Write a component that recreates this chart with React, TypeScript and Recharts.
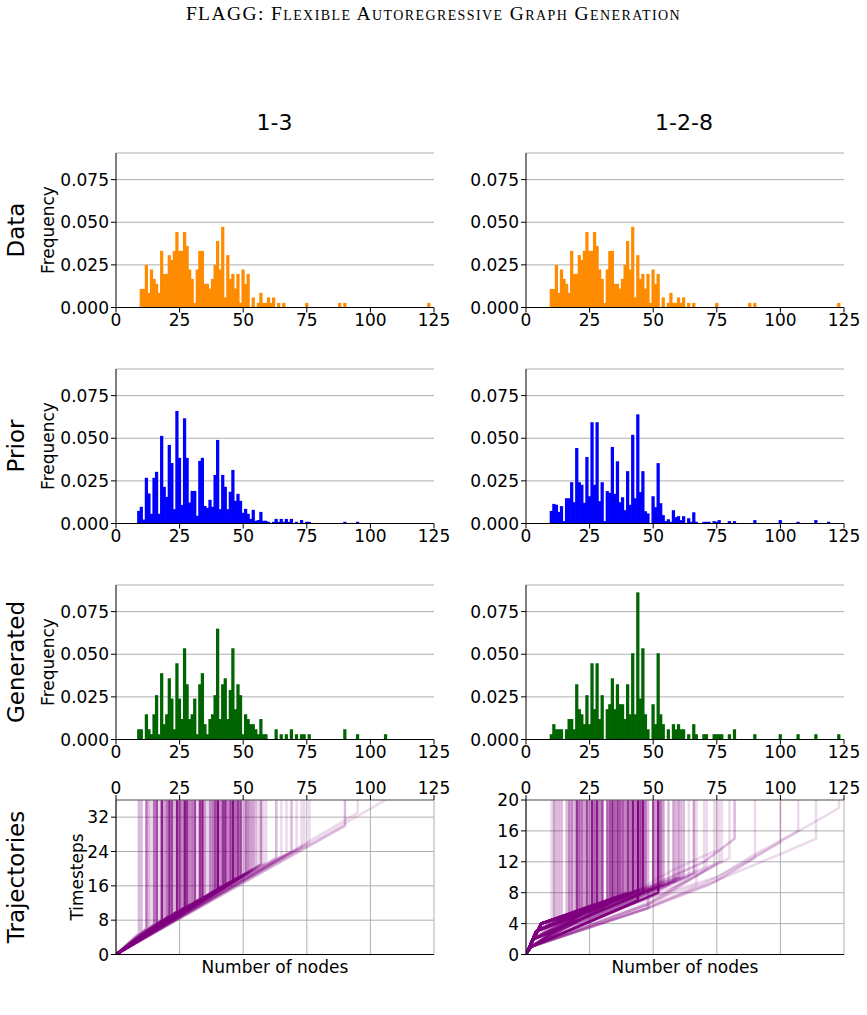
import React from 'react';
import { ComposedChart, Bar, Line, XAxis, YAxis, CartesianGrid } from 'recharts';

// axis ticks
const X_TICKS = [0, 25, 50, 75, 100, 125];
const FREQ_TICKS = [0, 0.025, 0.05, 0.075];
const FREQ_MAX = 0.0906;
const STEPS_13_TICKS = [0, 8, 16, 24, 32];
const STEPS_128_TICKS = [0, 4, 8, 12, 16, 20];

// training data histogram (same in both columns)
const DATA_N = [10, 11, 12, 13, 14, 15, 16, 17, 18, 19, 20, 21, 22, 23, 24, 25, 26, 27, 28, 29, 30, 31, 32, 33, 34, 35, 36, 37, 38, 39, 40, 41, 42, 43, 44, 45, 46, 47, 48, 49, 50, 51, 52, 54, 56, 57, 58, 59, 60, 61, 62, 64, 66, 75, 88, 90, 123];
const DATA_F = [0.0109, 0.0109, 0.025, 0.0086, 0.0223, 0.0168, 0.0139, 0.0086, 0.0332, 0.0197, 0.0197, 0.0307, 0.0279, 0.0332, 0.0443, 0.0332, 0.0332, 0.0443, 0.0361, 0.0223, 0.0168, 0.0027, 0.0223, 0.0332, 0.0332, 0.0139, 0.0139, 0.0111, 0.0168, 0.025, 0.039, 0.0223, 0.0473, 0.0059, 0.0307, 0.0168, 0.0197, 0.0111, 0.0197, 0.0027, 0.0223, 0.0139, 0.0197, 0.0059, 0.0027, 0.0086, 0.0027, 0.0027, 0.0059, 0.0027, 0.0059, 0.0027, 0.0027, 0.0027, 0.0027, 0.0027, 0.0027];

// prior, 1-3
const PRIOR13_N = [9, 10, 11, 12, 13, 14, 15, 16, 17, 18, 19, 20, 21, 22, 23, 24, 25, 26, 27, 28, 29, 30, 31, 32, 33, 34, 35, 36, 37, 38, 39, 40, 41, 42, 43, 44, 45, 46, 47, 48, 49, 50, 51, 52, 53, 54, 55, 56, 57, 58, 59, 60, 62, 63, 64, 65, 66, 67, 68, 69, 71, 73, 75, 76, 90, 95];
const PRIOR13_F = [0.0074, 0.0098, 0.0023, 0.0268, 0.0176, 0.0057, 0.0268, 0.0303, 0.0057, 0.0514, 0.0215, 0.0156, 0.0461, 0.0355, 0.0084, 0.066, 0.0385, 0.0109, 0.0617, 0.0385, 0.0123, 0.0191, 0.0191, 0.0045, 0.0367, 0.0385, 0.0103, 0.0092, 0.0139, 0.0098, 0.0285, 0.049, 0.0084, 0.0285, 0.0215, 0.0084, 0.0186, 0.0314, 0.0133, 0.0174, 0.0133, 0.0063, 0.0086, 0.0057, 0.0027, 0.008, 0.0016, 0.002, 0.0068, 0.0016, 0.0016, 0.001, 0.001, 0.0027, 0.001, 0.0027, 0.001, 0.0027, 0.001, 0.0027, 0.001, 0.002, 0.001, 0.001, 0.001, 0.001];

// prior, 1-2-8
const PRIOR128_N = [10, 11, 12, 13, 14, 15, 16, 17, 18, 19, 20, 21, 22, 23, 24, 25, 26, 27, 28, 29, 30, 31, 32, 33, 34, 35, 36, 37, 38, 39, 40, 41, 42, 43, 44, 45, 46, 47, 48, 50, 51, 52, 53, 54, 55, 56, 57, 58, 59, 60, 61, 62, 64, 65, 66, 67, 70, 71, 72, 74, 75, 76, 80, 82, 90, 100, 107, 114, 119];
const PRIOR128_F = [0.0074, 0.0115, 0.011, 0.0068, 0.0102, 0.0014, 0.0148, 0.0148, 0.0242, 0.0125, 0.0443, 0.0242, 0.0227, 0.0121, 0.039, 0.016, 0.0594, 0.0227, 0.0594, 0.0131, 0.0242, 0.0014, 0.019, 0.018, 0.0449, 0.0174, 0.0365, 0.0125, 0.0154, 0.0078, 0.0307, 0.011, 0.052, 0.0148, 0.064, 0.0184, 0.0307, 0.0072, 0.0059, 0.016, 0.0096, 0.0354, 0.0119, 0.0049, 0.0014, 0.0025, 0.001, 0.0078, 0.0037, 0.0043, 0.002, 0.0043, 0.0031, 0.001, 0.0066, 0.001, 0.001, 0.001, 0.001, 0.0014, 0.001, 0.002, 0.0014, 0.0014, 0.002, 0.002, 0.001, 0.002, 0.001];

// generated, 1-3
const GEN13_N = [9, 10, 12, 13, 14, 15, 16, 17, 18, 19, 20, 21, 22, 23, 24, 25, 26, 27, 28, 29, 30, 31, 32, 33, 34, 35, 36, 37, 38, 39, 40, 41, 42, 43, 44, 45, 46, 47, 48, 49, 50, 51, 52, 53, 54, 55, 56, 57, 58, 59, 63, 65, 67, 69, 71, 73, 74, 76, 90, 95, 106];
const GEN13_F = [0.006, 0.006, 0.0148, 0.006, 0.0031, 0.0148, 0.026, 0.0031, 0.0389, 0.009, 0.0148, 0.0359, 0.024, 0.006, 0.0447, 0.024, 0.012, 0.0535, 0.0324, 0.012, 0.0148, 0.024, 0.0031, 0.0324, 0.0389, 0.009, 0.0031, 0.012, 0.0148, 0.026, 0.065, 0.012, 0.0324, 0.0359, 0.012, 0.029, 0.0535, 0.0178, 0.0324, 0.026, 0.0031, 0.0148, 0.012, 0.009, 0.009, 0.006, 0.0031, 0.012, 0.0031, 0.0031, 0.006, 0.0031, 0.0031, 0.006, 0.0031, 0.0031, 0.0031, 0.0031, 0.006, 0.0031, 0.0031];

// generated, 1-2-8
const GEN128_N = [10, 11, 12, 13, 14, 16, 17, 18, 19, 20, 21, 22, 23, 24, 25, 26, 27, 28, 29, 30, 32, 33, 34, 35, 36, 37, 38, 39, 40, 41, 42, 43, 44, 45, 46, 47, 48, 50, 51, 52, 53, 54, 56, 58, 59, 60, 61, 62, 64, 66, 67, 70, 71, 74, 75, 76, 77, 80, 82, 90, 100, 107, 114, 123];
const GEN128_F = [0.0031, 0.009, 0.006, 0.006, 0.006, 0.006, 0.012, 0.012, 0.006, 0.0324, 0.0178, 0.0148, 0.009, 0.026, 0.009, 0.0447, 0.0178, 0.0447, 0.012, 0.026, 0.0178, 0.0207, 0.0359, 0.0178, 0.0324, 0.0207, 0.0207, 0.012, 0.0324, 0.0148, 0.0506, 0.0148, 0.0863, 0.024, 0.0535, 0.0148, 0.006, 0.0207, 0.009, 0.0506, 0.0148, 0.009, 0.006, 0.009, 0.006, 0.009, 0.006, 0.006, 0.0031, 0.009, 0.0031, 0.0031, 0.0031, 0.0031, 0.0031, 0.0031, 0.0031, 0.0031, 0.006, 0.0031, 0.0031, 0.0031, 0.0031, 0.0031];

// trajectories, 1-3: final timestep of each generated size (GEN13_N order)
const TRAJ13_T = [5, 5, 6, 6, 6.5, 7, 7, 7.5, 8, 8, 8.5, 9, 9, 9.5, 10, 10, 10.5, 11, 11, 11.5, 12, 12, 12.5, 13, 13, 13.5, 14, 14, 14.5, 15, 15, 15.5, 16, 16, 16.5, 17, 17, 17.5, 18, 18, 18.5, 19, 19, 19.5, 20, 20, 20.5, 21, 21, 21.5, 22.5, 23, 23.5, 24, 24.5, 25, 25.5, 26, 30, 33, 36];
const STEPS_13_MAX = 36;

// trajectories, 1-2-8: sizes up to 62 (GEN128_N order) go origin -> kink -> end
const KINKS = [[6, 4], [4, 3], [3, 2], [2, 1]];
const TRAJ128_T = [4.5, 4.5, 4.5, 4.5, 5, 5, 5, 5, 5.5, 5.5, 5.5, 5.5, 6, 6, 6, 6, 6.5, 6.5, 6.5, 6.5, 7, 7, 7, 7, 7.5, 7.5, 7.5, 7.5, 8, 8, 8, 8, 7, 8.5, 8, 8.5, 6, 8.5, 8.5, 8, 9, 9, 9, 9.5, 9.5, 10, 10, 10];
const TRAJ128_K = [0, 1, 0, 2, 0, 1, 0, 2, 0, 1, 0, 3, 1, 0, 2, 1, 0, 3, 1, 0, 2, 1, 0, 3, 1, 0, 2, 1, 0, 3, 1, 0, 3, 1, 2, 0, 3, 2, 0, 3, 1, 0, 2, 1, 0, 0, 3, 2];
// longer 1-2-8 trajectories, read point by point
const TRAJ128_LONG: number[][][] = [
  [[0, 0], [2, 1], [48, 6.5], [64, 10]],
  [[0, 0], [3, 2], [50, 8], [66, 10.5]],
  [[0, 0], [2, 1], [50, 7], [67, 9]],
  [[0, 0], [4, 3], [55, 9], [70, 11]],
  [[0, 0], [2, 1], [52, 7], [71, 11]],
  [[0, 0], [3, 2], [55, 8], [74, 11.5]],
  [[0, 0], [6, 4], [45, 8.5], [58, 11], [75, 13.5]],
  [[0, 0], [2, 1], [48, 6.5], [76, 12]],
  [[0, 0], [4, 3], [60, 10], [77, 12]],
  [[0, 0], [3, 2], [60, 9], [80, 12.5]],
  [[0, 0], [6, 4], [50, 9], [70, 12], [82, 15]],
  [[0, 0], [2, 1], [48, 6], [75, 9.5], [90, 12.5]],
  [[0, 0], [3, 2], [50, 7.5], [75, 10], [100, 14.5]],
  [[0, 0], [2, 1], [48, 6], [75, 10], [90, 13], [107, 16]],
  [[0, 0], [2, 1], [50, 6.5], [78, 10], [100, 13], [114, 15]],
  [[0, 0], [2, 1], [48, 6], [72, 9], [102, 15], [118, 18], [123, 19]],
];
const STEPS_128_MAX = 20;

const FONT = 'DejaVu Sans';
const PW = 318;
const PH = 154.5;
const YW = 75;
const RM = 16;
const BW = PW / 125;
const COL_X = [116, 525.5];
const ROW_Y = [152.5, 368.5, 584.5, 800];
const TRAJ_COLOR = '#800080';
const tickStyle = { fontSize: 17, fill: '#000', fontFamily: FONT };

function histRows(nodes: number[], freq: number[]) {
  const rows: { n: number; v: number }[] = [];
  for (let n = 0; n <= 125; n++) {
    const i = nodes.indexOf(n);
    rows.push({ n, v: i >= 0 ? freq[i] : 0 });
  }
  return rows;
}

// darker where several sampled graphs share the same size
function lineOpacity(f: number) {
  const count = Math.max(1, Math.round(f / 0.0031));
  return 1 - Math.pow(0.85, count);
}

function withTop(pts: number[][], yMax: number) {
  const last = pts[pts.length - 1];
  const all = last[1] < yMax ? [...pts, [last[0], yMax]] : pts;
  return all.map(([x, y]) => ({ x, y }));
}

const traj13 = GEN13_N.map((n, i) => ({
  pts: withTop([[0, 0], [n, TRAJ13_T[i]]], STEPS_13_MAX),
  op: lineOpacity(GEN13_F[i]),
}));

const traj128 = GEN128_N.map((n, i) => {
  const j = i - TRAJ128_T.length;
  const path = j < 0 ? [[0, 0], KINKS[TRAJ128_K[i]], [n, TRAJ128_T[i]]] : TRAJ128_LONG[j];
  return { pts: withTop(path, STEPS_128_MAX), op: lineOpacity(GEN128_F[i]) };
});

type Traj = { pts: { x: number; y: number }[]; op: number };

// full-width bins; a hair of overlap hides anti-aliasing seams
const HistBar = (props: any) => {
  const { x, y, width, height, fill } = props;
  if (!height || height <= 0) return <g />;
  const cx = x + width / 2;
  return <rect x={cx - BW / 2 - 0.35} y={y} width={BW + 0.7} height={height} fill={fill} />;
};

function Hist({ col, row, nodes, freq, color }: { col: number; row: number; nodes: number[]; freq: number[]; color: string }) {
  const data = histRows(nodes, freq);
  return (
    <div style={{ position: 'absolute', left: COL_X[col] - YW, top: ROW_Y[row] - 10 }}>
      <ComposedChart
        width={YW + PW + RM}
        height={10 + PH + 30}
        data={data}
        margin={{ top: 10, right: RM, bottom: 0, left: 0 }}
        barCategoryGap={0}
        barGap={0}
        style={{ overflow: 'visible' }}
      >
        <CartesianGrid vertical={false} stroke="#b0b0b0" />
        <XAxis dataKey="n" type="number" domain={[0, 125]} ticks={X_TICKS} interval={0} allowDataOverflow
          height={30} tickSize={5} tickMargin={1} stroke="#000" tick={tickStyle} />
        <XAxis xAxisId="t" orientation="top" type="number" domain={[0, 125]} height={0} tick={false} tickLine={false} stroke="#6e6e6e" />
        <YAxis type="number" domain={[0, FREQ_MAX]} ticks={FREQ_TICKS} interval={0} allowDataOverflow
          tickFormatter={(v: number) => v.toFixed(3)} width={YW} tickSize={5} tickMargin={2} stroke="#000" tick={tickStyle} />
        <YAxis yAxisId="r" orientation="right" type="number" domain={[0, 1]} width={0} tick={false} tickLine={false} stroke="#6e6e6e" />
        <Bar dataKey="v" fill={color} barSize={BW} shape={HistBar} isAnimationActive={false} />
      </ComposedChart>
    </div>
  );
}

function TrajPanel({ col, lines, yMax, yTicks }: { col: number; lines: Traj[]; yMax: number; yTicks: number[] }) {
  return (
    <div style={{ position: 'absolute', left: COL_X[col] - YW, top: ROW_Y[3] - 30 }}>
      <ComposedChart
        width={YW + PW + RM}
        height={30 + PH + 28}
        margin={{ top: 0, right: RM, bottom: 0, left: 0 }}
        style={{ overflow: 'visible' }}
      >
        <CartesianGrid stroke="#b0b0b0" />
        <XAxis dataKey="x" type="number" orientation="top" domain={[0, 125]} ticks={X_TICKS} interval={0} allowDataOverflow
          height={30} tickSize={5} tickMargin={1} stroke="#6e6e6e" tickLine={{ stroke: '#000' }} tick={tickStyle} />
        <XAxis xAxisId="b" type="number" domain={[0, 125]} height={28} tick={false} tickLine={false} stroke="#000"
          label={{ value: 'Number of nodes', position: 'insideBottom', offset: 10, fontSize: 17, fill: '#000', fontFamily: FONT }} />
        <YAxis dataKey="y" type="number" domain={[0, yMax]} ticks={yTicks} interval={0} allowDataOverflow
          width={YW} tickSize={5} tickMargin={2} stroke="#000" tick={tickStyle} />
        <YAxis yAxisId="r" orientation="right" type="number" domain={[0, 1]} width={0} tick={false} tickLine={false} stroke="#6e6e6e" />
        {lines.map((l, i) => (
          <Line key={i} data={l.pts} dataKey="y" type="linear" stroke={TRAJ_COLOR} strokeOpacity={l.op}
            strokeWidth={2.5} dot={false} activeDot={false} isAnimationActive={false} />
        ))}
      </ComposedChart>
    </div>
  );
}

function VLabel({ x, y, size, text }: { x: number; y: number; size: number; text: string }) {
  return (
    <div style={{
      position: 'absolute', left: x, top: y, transform: 'translate(-50%, -50%) rotate(-90deg)',
      fontSize: size, fontFamily: FONT, lineHeight: 1, whiteSpace: 'nowrap', color: '#000',
    }}>{text}</div>
  );
}

function CLabel({ x, y, size, text }: { x: number; y: number; size: number; text: string }) {
  return (
    <div style={{
      position: 'absolute', left: x, top: y, transform: 'translate(-50%, -50%)',
      fontSize: size, fontFamily: FONT, lineHeight: 1, whiteSpace: 'nowrap', color: '#000',
    }}>{text}</div>
  );
}

const ROW_NAMES = ['Data', 'Prior', 'Generated', 'Trajectories'];
const COL_NAMES = ['1-3', '1-2-8'];

export default function App() {
  return (
    <div style={{ position: 'absolute', left: 0, top: 0, width: 867, height: 1015, background: '#fff', overflow: 'hidden' }}>
      <div style={{
        position: 'absolute', left: 0, top: 3, width: 867, textAlign: 'center', fontFamily: 'Liberation Serif',
        fontVariant: 'small-caps', fontSize: 19.5, letterSpacing: 1.4, lineHeight: '22px', color: '#000',
      }}>
        FLAGG: Flexible Autoregressive Graph Generation
      </div>

      {COL_NAMES.map((c, i) => (
        <CLabel key={c} x={COL_X[i] + PW / 2 - 0.5} y={123} size={22} text={c} />
      ))}
      {ROW_NAMES.map((r, i) => (
        <VLabel key={r} x={16} y={ROW_Y[i] + PH / 2} size={23} text={r} />
      ))}
      {[0, 1, 2].map(i => (
        <VLabel key={i} x={48} y={ROW_Y[i] + PH / 2} size={17} text="Frequency" />
      ))}
      <VLabel x={77} y={ROW_Y[3] + PH / 2} size={17} text="Timesteps" />

      <Hist col={0} row={0} nodes={DATA_N} freq={DATA_F} color="#ff8c00" />
      <Hist col={1} row={0} nodes={DATA_N} freq={DATA_F} color="#ff8c00" />
      <Hist col={0} row={1} nodes={PRIOR13_N} freq={PRIOR13_F} color="#0000ff" />
      <Hist col={1} row={1} nodes={PRIOR128_N} freq={PRIOR128_F} color="#0000ff" />
      <Hist col={0} row={2} nodes={GEN13_N} freq={GEN13_F} color="#006400" />
      <Hist col={1} row={2} nodes={GEN128_N} freq={GEN128_F} color="#006400" />
      <TrajPanel col={0} lines={traj13} yMax={STEPS_13_MAX} yTicks={STEPS_13_TICKS} />
      <TrajPanel col={1} lines={traj128} yMax={STEPS_128_MAX} yTicks={STEPS_128_TICKS} />
    </div>
  );
}
